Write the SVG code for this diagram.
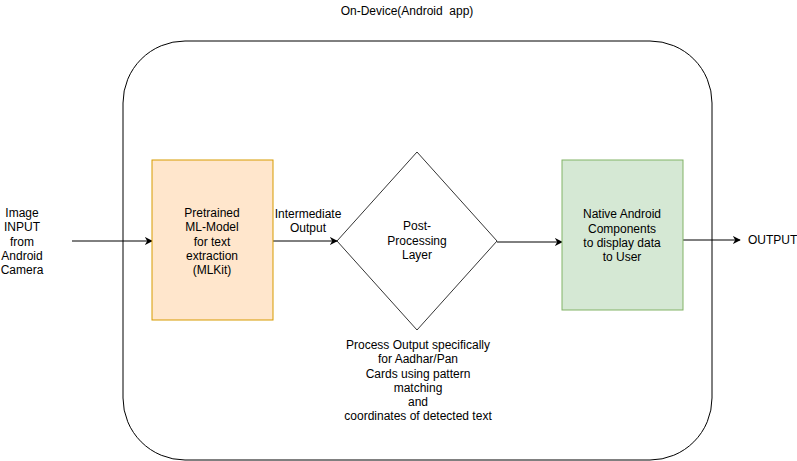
<svg xmlns="http://www.w3.org/2000/svg" width="797" height="461" viewBox="0 0 797 461">
<defs>
<style>
text{font-family:"Liberation Sans",Arial,sans-serif;font-size:12px;fill:#000;text-anchor:middle}
.edge{stroke:#000;stroke-width:1;fill:none}
</style>
<marker id="arr" viewBox="0 0 10 10" refX="9" refY="5" markerWidth="8" markerHeight="8" markerUnits="userSpaceOnUse" orient="auto">
<path d="M0,0 L10,5 L0,10 L3,5 Z" fill="#000"/>
</marker>
</defs>
<rect width="797" height="461" fill="#fff"/>
<g id="container">
<rect x="123" y="41" width="589" height="419" rx="62" ry="62" fill="none" stroke="#000"/>
<text x="407" y="15" xml:space="preserve">On-Device(Android  app)</text>
</g>
<g id="connectors">
<line class="edge" x1="72" y1="241" x2="152" y2="241" marker-end="url(#arr)"/>
<line class="edge" x1="273" y1="241" x2="337" y2="241" marker-end="url(#arr)"/>
<line class="edge" x1="497" y1="242" x2="562" y2="242" marker-end="url(#arr)"/>
<line class="edge" x1="683" y1="240" x2="740" y2="240" marker-end="url(#arr)"/>
<text x="308" y="218">Intermediate</text>
<text x="308" y="232">Output</text>
</g>
<g id="input">
<text x="22" y="217">Image</text>
<text x="22" y="231">INPUT</text>
<text x="22" y="246">from</text>
<text x="22" y="260">Android</text>
<text x="22" y="274">Camera</text>
</g>
<g id="mlmodel">
<rect x="152" y="160" width="121" height="160" fill="#ffe6cc" stroke="#d79b00"/>
<text x="212" y="217">Pretrained</text>
<text x="212" y="231">ML-Model</text>
<text x="212" y="246">for text</text>
<text x="212" y="260">extraction</text>
<text x="212" y="274">(MLKit)</text>
</g>
<g id="postprocessing">
<polygon points="417,152 497,241 417,330 337,241" fill="#fff" stroke="#000" stroke-width="0.8"/>
<text x="417" y="230">Post-</text>
<text x="417" y="245">Processing</text>
<text x="417" y="259">Layer</text>
</g>
<g id="note">
<text x="418" y="349">Process Output specifically</text>
<text x="418" y="363">for Aadhar/Pan</text>
<text x="418" y="378">Cards using pattern</text>
<text x="418" y="392">matching</text>
<text x="418" y="406">and</text>
<text x="418" y="420">coordinates of detected text</text>
</g>
<g id="native">
<rect x="562" y="160" width="121" height="150" fill="#d5e8d4" stroke="#82b366"/>
<text x="622" y="218">Native Android</text>
<text x="622" y="233">Components</text>
<text x="622" y="247">to display data</text>
<text x="622" y="261">to User</text>
</g>
<g id="output">
<text x="748" y="244" style="text-anchor:start">OUTPUT</text>
</g>
</svg>
